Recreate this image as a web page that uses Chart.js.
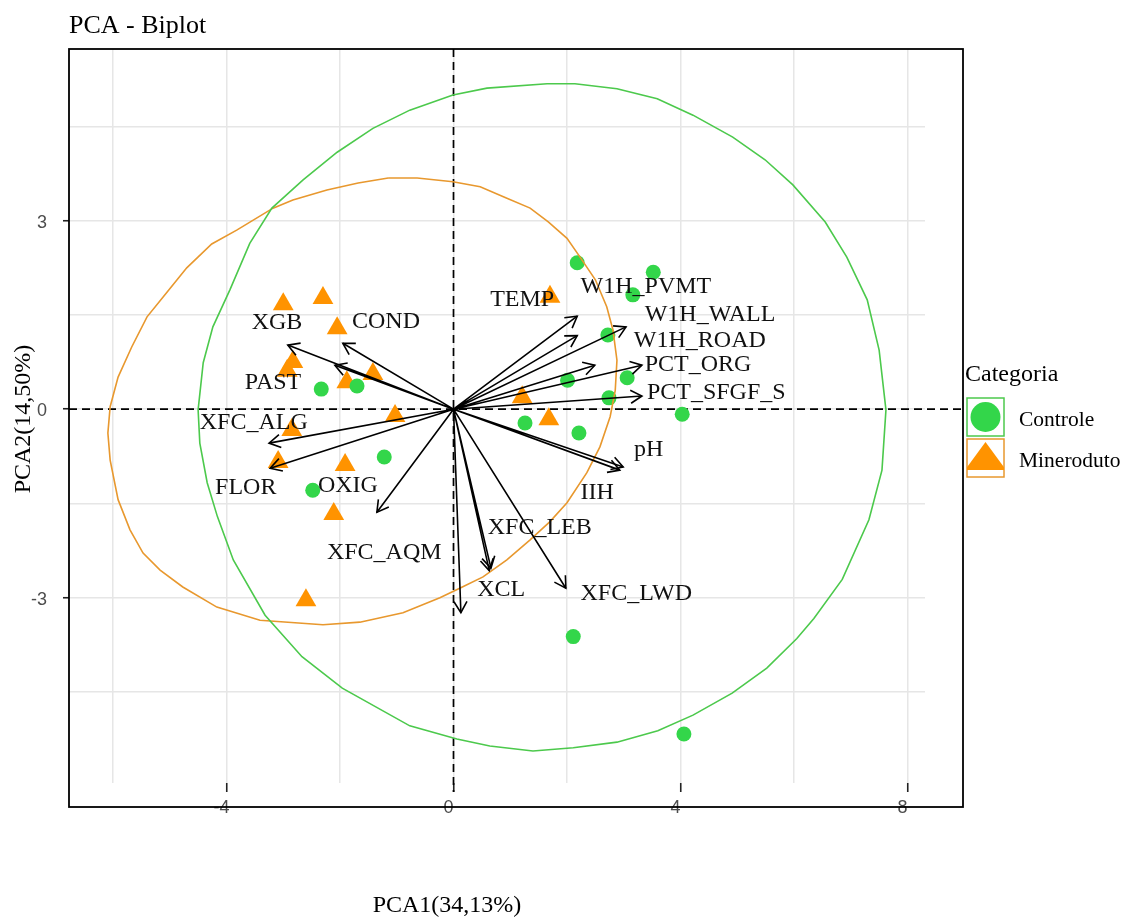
<!DOCTYPE html>
<html>
<head>
<meta charset="utf-8">
<title>PCA - Biplot</title>
<script src="https://cdn.jsdelivr.net/npm/chart.js@4.4.1/dist/chart.umd.min.js"></script>
<style>
  html, body { margin: 0; padding: 0; background: #ffffff; }
</style>
</head>
<body>
<canvas id="pcaChart" width="1123" height="917"></canvas>
<script>
// ---- data ----
const categories = ["Controle", "Mineroduto"];

const controleX = [2.18, 3.52, 3.16, 2.72, 2.01, 3.06, 2.74, 4.03, 1.26, 2.21, 2.11, 4.06, -2.33, -1.70, -1.22, -2.48];
const controleY = [2.33, 2.18, 1.82, 1.18, 0.46, 0.50, 0.18, -0.08, -0.22, -0.38, -3.62, -5.17, 0.32, 0.37, -0.76, -1.29];

const minerodutoX = [-3.00, -2.30, -2.05, -2.83, -2.93, -1.88, -1.42, -1.03, -2.85, -3.09, -1.91, -2.11, -2.60, 1.70, 1.21, 1.68];
const minerodutoY = [1.67, 1.77, 1.29, 0.75, 0.61, 0.43, 0.56, -0.11, -0.33, -0.84, -0.89, -1.67, -3.04, 1.79, 0.19, -0.16];

const varNames = ["TEMP", "W1H_PVMT", "W1H_WALL", "W1H_ROAD", "PCT_ORG", "PCT_SFGF_S", "pH", "IIH", "XFC_LEB",
                  "XCL", "XFC_LWD", "OXIG", "XFC_AQM", "FLOR", "XFC_ALG", "PAST", "XGB", "COND"];
const arrowX = [2.18, 2.18, 3.04, 2.49, 3.32, 3.32, 2.99, 2.93, 0.66, 0.63, 1.98, 0.13, -1.35, -3.23, -3.25, -2.09, -2.92, -1.95];
const arrowY = [1.48, 1.17, 1.31, 0.70, 0.70, 0.21, -0.92, -0.97, -2.53, -2.57, -2.85, -3.24, -1.64, -0.94, -0.54, 0.70, 1.02, 1.05];
const labelX = [1.21, 3.39, 4.52, 4.34, 4.31, 4.63, 3.44, 2.53, 1.52, 0.84, 3.22, -1.86, -1.22, -3.66, -3.52, -3.18, -3.11, -1.19];
const labelY = [1.74, 1.95, 1.50, 1.09, 0.71, 0.27, -0.65, -1.33, -1.88, -2.88, -2.93, -1.21, -2.29, -1.25, -0.22, 0.42, 1.37, 1.39];

// ellipse outlines (vertices)
const greenEllipseX = [1.65, 2.14, 2.88, 3.59, 4.22, 4.92, 5.49, 5.98, 6.55, 6.93, 7.29, 7.50, 7.62, 7.55, 7.32, 6.85,
  6.35, 6.05, 5.52, 4.91, 4.22, 3.60, 2.88, 2.11, 1.40, 0.64, 0.06, -0.77, -1.96, -2.67, -3.32, -3.88, -4.16, -4.34,
  -4.47, -4.50, -4.41, -4.24, -3.94, -3.59, -3.20, -2.65, -2.05, -1.42, -0.77, -0.01, 0.59];
const greenEllipseY = [5.18, 5.18, 5.10, 4.94, 4.68, 4.33, 3.97, 3.57, 2.98, 2.42, 1.74, 0.94, -0.01, -0.97, -1.76, -2.71,
  -3.33, -3.65, -4.12, -4.52, -4.87, -5.12, -5.30, -5.39, -5.44, -5.36, -5.25, -5.04, -4.44, -3.94, -3.28, -2.40, -1.71, -1.17,
  -0.54, -0.01, 0.74, 1.31, 1.90, 2.64, 3.20, 3.65, 4.09, 4.47, 4.76, 5.00, 5.11];

const orangeEllipseX = [-1.15, -0.64, -0.01, 0.47, 0.91, 1.35, 1.67, 2.00, 2.23, 2.50, 2.70, 2.81, 2.88, 2.85, 2.76, 2.58,
  2.35, 2.00, 1.70, 1.35, 0.94, 0.52, 0.11, -0.24, -0.89, -1.65, -2.30, -3.41, -4.17, -4.77, -5.17, -5.47, -5.70, -5.91,
  -6.05, -6.09, -6.05, -5.91, -5.67, -5.40, -5.12, -4.70, -4.26, -3.82, -3.18, -2.83, -2.23, -1.68];
const orangeEllipseY = [3.68, 3.68, 3.62, 3.54, 3.37, 3.20, 2.98, 2.72, 2.42, 2.06, 1.63, 1.26, 0.78, 0.30, -0.12, -0.60,
  -1.01, -1.49, -1.79, -2.08, -2.40, -2.67, -2.85, -3.00, -3.24, -3.39, -3.43, -3.36, -3.15, -2.83, -2.56, -2.29, -1.92, -1.44,
  -0.81, -0.38, 0.04, 0.51, 0.99, 1.47, 1.78, 2.25, 2.63, 2.85, 3.20, 3.33, 3.49, 3.60];

// axis ticks / grid
const xGrid = [-6, -4, -2, 0, 2, 4, 6, 8];
const xTickLabels = [-4, 0, 4, 8];
const yGrid = [-4.5, -3, -1.5, 0, 1.5, 3, 4.5];
const yTickLabels = [-3, 0, 3];

const greenPoint = "#33D64A";
const orangePoint = "#FF9300";
const greenLine = "#4CC94C";
const orangeLine = "#E8982E";
const serif = "'Liberation Serif', 'Times New Roman', serif";
const sans = "'Liberation Sans', Arial, sans-serif";

function toPoints(xs, ys) {
  return xs.map((x, i) => ({ x: x, y: ys[i] }));
}

function closedRing(xs, ys) {
  const pts = toPoints(xs, ys);
  pts.push({ x: xs[0], y: ys[0] });
  return pts;
}

// arrows from origin, separated by gaps
const arrowSegments = [];
varNames.forEach((name, i) => {
  arrowSegments.push({ x: 0, y: 0 }, { x: arrowX[i], y: arrowY[i] }, { x: arrowX[i], y: null });
});

const biplotDecor = {
  id: "biplotDecor",
  beforeDatasetsDraw(chart) {
    const { ctx, chartArea, scales } = chart;
    const x0 = scales.x.getPixelForValue(0);
    const y0 = scales.y.getPixelForValue(0);
    ctx.save();
    ctx.strokeStyle = "#000";
    ctx.lineWidth = 1.7;
    ctx.setLineDash([8, 5]);
    ctx.beginPath();
    ctx.moveTo(chartArea.left, y0);
    ctx.lineTo(chartArea.right + 38, y0);
    ctx.moveTo(x0, chartArea.top);
    ctx.lineTo(x0, chartArea.bottom + 9);
    ctx.stroke();
    ctx.restore();
  },
  afterDatasetsDraw(chart) {
    const { ctx, scales } = chart;
    const ox = scales.x.getPixelForValue(0);
    const oy = scales.y.getPixelForValue(0);
    ctx.save();
    // arrowheads
    ctx.strokeStyle = "#000";
    ctx.lineWidth = 1.6;
    const len = 13;
    const spread = Math.PI / 6;
    varNames.forEach((name, i) => {
      const tx = scales.x.getPixelForValue(arrowX[i]);
      const ty = scales.y.getPixelForValue(arrowY[i]);
      const a = Math.atan2(ty - oy, tx - ox);
      ctx.beginPath();
      ctx.moveTo(tx - len * Math.cos(a - spread), ty - len * Math.sin(a - spread));
      ctx.lineTo(tx, ty);
      ctx.lineTo(tx - len * Math.cos(a + spread), ty - len * Math.sin(a + spread));
      ctx.stroke();
    });
    // variable labels
    ctx.fillStyle = "#111";
    ctx.font = "24px " + serif;
    ctx.textAlign = "center";
    ctx.textBaseline = "middle";
    varNames.forEach((name, i) => {
      ctx.fillText(name, scales.x.getPixelForValue(labelX[i]), scales.y.getPixelForValue(labelY[i]));
    });
    ctx.restore();
  },
  afterDraw(chart) {
    const { ctx, chartArea } = chart;
    ctx.save();
    // panel frame
    ctx.strokeStyle = "#000";
    ctx.lineWidth = 1.8;
    ctx.strokeRect(chartArea.left, chartArea.top, chartArea.right + 38 - chartArea.left, chartArea.bottom + 24 - chartArea.top);

    // title and axis titles
    ctx.fillStyle = "#000";
    ctx.font = "26px " + serif;
    ctx.textAlign = "left";
    ctx.textBaseline = "alphabetic";
    ctx.fillText("PCA - Biplot", chartArea.left, 33);

    ctx.font = "24px " + serif;
    ctx.textAlign = "center";
    ctx.fillText("PCA1(34,13%)", 447, 912);

    ctx.save();
    ctx.translate(24, 419);
    ctx.rotate(-Math.PI / 2);
    ctx.textBaseline = "middle";
    ctx.fillText("PCA2(14,50%)", 0, 0);
    ctx.restore();

    // legend
    ctx.textAlign = "left";
    ctx.textBaseline = "middle";
    ctx.font = "24px " + serif;
    ctx.fillText("Categoria", 965, 375);

    const bx = 967, bw = 37, bh = 38;
    // Controle key
    ctx.lineWidth = 1.5;
    ctx.strokeStyle = greenLine;
    ctx.strokeRect(bx, 398, bw, bh);
    ctx.fillStyle = greenPoint;
    ctx.beginPath();
    ctx.arc(bx + bw / 2, 417, 15, 0, Math.PI * 2);
    ctx.fill();
    // Mineroduto key
    ctx.strokeStyle = orangeLine;
    ctx.strokeRect(bx, 439, bw, bh);
    ctx.save();
    ctx.beginPath();
    ctx.rect(bx, 439, bw, bh);
    ctx.clip();
    ctx.fillStyle = orangePoint;
    ctx.beginPath();
    ctx.moveTo(bx + bw / 2, 442);
    ctx.lineTo(bx + bw + 2, 470);
    ctx.lineTo(bx - 2, 470);
    ctx.closePath();
    ctx.fill();
    ctx.restore();

    ctx.fillStyle = "#000";
    ctx.font = "21.5px " + serif;
    ctx.fillText(categories[0], 1019, 420);
    ctx.fillText(categories[1], 1019, 461);
    ctx.restore();
  }
};

const ctx = document.getElementById("pcaChart").getContext("2d");
new Chart(ctx, {
  type: "scatter",
  data: {
    datasets: [
      {
        label: "arrows",
        data: arrowSegments,
        showLine: true,
        spanGaps: false,
        borderColor: "#000",
        borderWidth: 1.6,
        pointRadius: 0,
      },
      {
        label: categories[0] + " ellipse",
        data: closedRing(greenEllipseX, greenEllipseY),
        showLine: true,
        borderColor: greenLine,
        borderWidth: 1.6,
        pointRadius: 0,
      },
      {
        label: categories[1] + " ellipse",
        data: closedRing(orangeEllipseX, orangeEllipseY),
        showLine: true,
        borderColor: orangeLine,
        borderWidth: 1.6,
        pointRadius: 0,
      },
      {
        label: categories[0],
        data: toPoints(controleX, controleY),
        pointStyle: "circle",
        pointRadius: 7.5,
        backgroundColor: greenPoint,
        borderWidth: 0,
      },
      {
        label: categories[1],
        data: toPoints(minerodutoX, minerodutoY),
        pointStyle: "triangle",
        pointRadius: 12,
        backgroundColor: orangePoint,
        borderWidth: 0,
      },
    ],
  },
  options: {
    responsive: false,
    animation: false,
    devicePixelRatio: 1,
    events: [],
    layout: { padding: { top: 49, right: 198, bottom: 100, left: 0 } },
    plugins: {
      legend: { display: false },
      tooltip: { enabled: false },
    },
    scales: {
      x: {
        type: "linear",
        min: -6.775,
        max: 8.308,
        afterBuildTicks: (scale) => {
          scale.ticks = xGrid.map((v) => ({ value: v }));
        },
        afterFit: (scale) => {
          scale.height = 34;
        },
        border: { display: false },
        grid: {
          color: "#e6e6e6",
          lineWidth: 1.5,
          tickLength: 9,
          tickWidth: 1.6,
          tickColor: (c) => (xTickLabels.includes(c.tick && c.tick.value) ? "#222" : "rgba(0,0,0,0)"),
        },
        ticks: {
          autoSkip: false,
          maxRotation: 0,
          padding: 5,
          labelOffset: -5,
          color: "#4d4d4d",
          font: { family: sans, size: 18 },
          callback: (v) => (xTickLabels.includes(v) ? String(v) : ""),
        },
      },
      y: {
        type: "linear",
        min: -5.95,
        max: 5.733,
        afterBuildTicks: (scale) => {
          scale.ticks = yGrid.map((v) => ({ value: v }));
        },
        afterFit: (scale) => {
          scale.width = 69;
        },
        border: { display: false },
        grid: {
          color: "#e6e6e6",
          lineWidth: 1.5,
          tickLength: 6,
          tickWidth: 1.6,
          tickColor: (c) => (yTickLabels.includes(c.tick && c.tick.value) ? "#222" : "rgba(0,0,0,0)"),
        },
        ticks: {
          autoSkip: false,
          padding: 16,
          labelOffset: 2,
          color: "#4d4d4d",
          font: { family: sans, size: 18 },
          callback: (v) => (yTickLabels.includes(v) ? String(v) : ""),
        },
      },
    },
  },
  plugins: [biplotDecor],
});
</script>
</body>
</html>
